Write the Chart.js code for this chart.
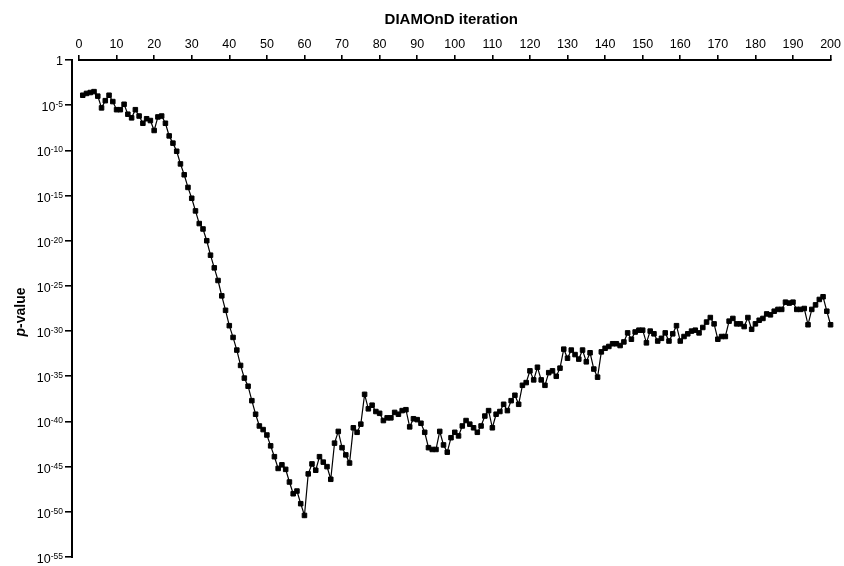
<!DOCTYPE html>
<html>
<head>
<meta charset="utf-8">
<script src="https://cdn.jsdelivr.net/npm/chart.js@4/dist/chart.umd.min.js"></script>
<style>
  html, body { margin: 0; padding: 0; background: #fff; }
  #wrap { width: 844px; height: 566px; }
</style>
</head>
<body>
<div id="wrap"><canvas id="c" width="844" height="566"></canvas></div>
<script>
// ---- data ----
const iterations = Array.from({ length: 200 }, (_, i) => i + 1);
// log10 of p-value at each DIAMOnD iteration
const log10PValues = [
  -3.9, -3.7, -3.6, -3.5, -4.0, -5.3, -4.5, -3.9, -4.6, -5.5,
  -5.5, -4.9, -6.0, -6.4, -5.5, -6.2, -7.0, -6.5, -6.7, -7.8,
  -6.3, -6.2, -7.0, -8.4, -9.2, -10.1, -11.5, -12.7, -14.1, -15.3,
  -16.7, -18.1, -18.7, -20.0, -21.6, -23.0, -24.4, -26.1, -27.7, -29.4,
  -30.7, -32.1, -33.8, -35.2, -36.1, -37.7, -39.2, -40.5, -40.9, -41.5,
  -42.7, -43.9, -45.2, -44.8, -45.3, -46.7, -48.0, -47.7, -49.1, -50.4,
  -45.8, -44.7, -45.4, -43.9, -44.5, -45.0, -46.4, -42.4, -41.1, -42.9,
  -43.7, -44.6, -40.7, -41.2, -40.3, -37.0, -38.6, -38.2, -38.9, -39.1,
  -39.9, -39.6, -39.6, -39.0, -39.2, -38.8, -38.7, -40.6, -39.7, -39.8,
  -40.2, -41.2, -42.9, -43.1, -43.1, -41.1, -42.6, -43.4, -41.8, -41.2,
  -41.6, -40.5, -39.9, -40.3, -40.7, -41.2, -40.5, -39.4, -38.8, -40.7,
  -39.2, -38.9, -38.1, -38.8, -37.7, -37.1, -38.1, -36.0, -35.7, -34.4,
  -35.4, -34.0, -35.4, -36.0, -34.6, -34.4, -35.0, -34.1, -32.0, -33.0,
  -32.1, -32.6, -33.1, -32.1, -33.4, -32.4, -34.2, -35.1, -32.3, -31.9,
  -31.7, -31.4, -31.4, -31.6, -31.2, -30.2, -30.9, -30.1, -29.9, -29.9,
  -31.3, -30.0, -30.3, -31.1, -30.8, -30.2, -31.1, -30.3, -29.4, -31.1,
  -30.6, -30.3, -30.0, -29.9, -30.2, -29.6, -29.0, -28.5, -29.2, -30.9,
  -30.6, -30.6, -28.9, -28.6, -29.2, -29.2, -29.5, -28.5, -29.8, -29.2,
  -28.8, -28.6, -28.1, -28.2, -27.8, -27.6, -27.6, -26.8, -26.9, -26.8,
  -27.6, -27.6, -27.5, -29.3, -27.6, -27.1, -26.5, -26.2, -27.8, -29.3
];
const xTicks = [0, 10, 20, 30, 40, 50, 60, 70, 80, 90, 100, 110, 120, 130, 140, 150, 160, 170, 180, 190, 200];
const yTickExponents = [0, -5, -10, -15, -20, -25, -30, -35, -40, -45, -50, -55];
const xTitle = 'DIAMOnD iteration';
const yTitleItalic = 'p';
const yTitleRest = '-value';

// ---- chart ----
const FONT = "'Liberation Sans', Arial, Helvetica, sans-serif";
const points = iterations.map((it, i) => ({ x: it, y: Math.pow(10, log10PValues[i]) }));

const decorPlugin = {
  id: 'decor',
  afterDraw(chart) {
    const { ctx, chartArea, scales } = chart;
    const x = scales.x, y = scales.y;
    ctx.save();
    ctx.strokeStyle = '#000';
    ctx.lineWidth = 2;
    ctx.beginPath();
    // top x axis line (offset from y axis, as in reference)
    ctx.moveTo(x.getPixelForValue(xTicks[0]) - 1, chartArea.top);
    ctx.lineTo(x.getPixelForValue(xTicks[xTicks.length - 1]) + 1, chartArea.top);
    // left y axis line
    ctx.moveTo(chartArea.left, chartArea.top - 1);
    ctx.lineTo(chartArea.left, chartArea.bottom + 1);
    ctx.stroke();

    // y tick labels with superscript exponents
    ctx.fillStyle = '#000';
    ctx.textBaseline = 'alphabetic';
    ctx.textAlign = 'left';
    const right = chartArea.left - 9;
    yTickExponents.forEach(e => {
      const py = y.getPixelForValue(Math.pow(10, e));
      if (e === 0) {
        ctx.font = '12.5px ' + FONT;
        const w = ctx.measureText('1').width;
        ctx.fillText('1', right - w, py + 4.5);
      } else {
        ctx.font = '12.5px ' + FONT;
        const wb = ctx.measureText('10').width;
        ctx.font = '8.5px ' + FONT;
        const sup = String(e);
        const ws = ctx.measureText(sup).width;
        const x0 = right - wb - ws;
        ctx.font = '12.5px ' + FONT;
        ctx.fillText('10', x0, py + 6);
        ctx.font = '8.5px ' + FONT;
        ctx.fillText(sup, x0 + wb, py + 2);
      }
    });

    // y axis title: italic "p" + "-value", rotated
    ctx.save();
    ctx.translate(25, 312);
    ctx.rotate(-Math.PI / 2);
    ctx.font = 'italic bold 14px ' + FONT;
    const wp = ctx.measureText(yTitleItalic).width;
    ctx.font = 'bold 14px ' + FONT;
    const wr = ctx.measureText(yTitleRest).width;
    const sx = -(wp + wr) / 2;
    ctx.font = 'italic bold 14px ' + FONT;
    ctx.fillText(yTitleItalic, sx, 0);
    ctx.font = 'bold 14px ' + FONT;
    ctx.fillText(yTitleRest, sx + wp, 0);
    ctx.restore();

    ctx.restore();
  }
};

new Chart(document.getElementById('c'), {
  type: 'line',
  data: {
    datasets: [{
      data: points,
      borderColor: '#000',
      borderWidth: 1.2,
      tension: 0,
      pointStyle: 'rect',
      pointRadius: 3.2,
      pointBackgroundColor: '#000',
      pointBorderColor: '#000',
      pointBorderWidth: 1,
      clip: false
    }]
  },
  options: {
    responsive: false,
    devicePixelRatio: 1,
    animation: false,
    events: [],
    layout: { padding: { left: 0, top: 0, right: 11, bottom: 9 } },
    plugins: { legend: { display: false }, tooltip: { enabled: false }, title: { display: false } },
    scales: {
      x: {
        type: 'linear',
        position: 'top',
        min: -1.86,
        max: 200,
        afterBuildTicks: (s) => { s.ticks = xTicks.map(v => ({ value: v })); },
        afterFit: (s) => { s.height = 60; },
        ticks: {
          autoSkip: false,
          maxRotation: 0,
          minRotation: 0,
          padding: 3,
          color: '#000',
          font: { family: FONT, size: 12.5 },
          callback: (v) => String(v)
        },
        grid: { display: true, drawOnChartArea: false, drawTicks: true, tickLength: 5, color: '#000', lineWidth: 1.6 },
        border: { display: false },
        title: {
          display: true,
          text: xTitle,
          color: '#000',
          font: { family: FONT, size: 15, weight: 'bold' },
          padding: { top: 11, bottom: 0 }
        }
      },
      y: {
        type: 'logarithmic',
        min: Math.pow(10, yTickExponents[yTickExponents.length - 1]),
        max: Math.pow(10, yTickExponents[0]),
        afterBuildTicks: (s) => { s.ticks = yTickExponents.map(e => ({ value: Math.pow(10, e) })); },
        afterFit: (s) => { s.width = 72; },
        ticks: { display: false },
        grid: { display: true, drawOnChartArea: false, drawTicks: true, tickLength: 7, color: '#000', lineWidth: 1.6 },
        border: { display: false }
      }
    }
  },
  plugins: [decorPlugin]
});
</script>
</body>
</html>
